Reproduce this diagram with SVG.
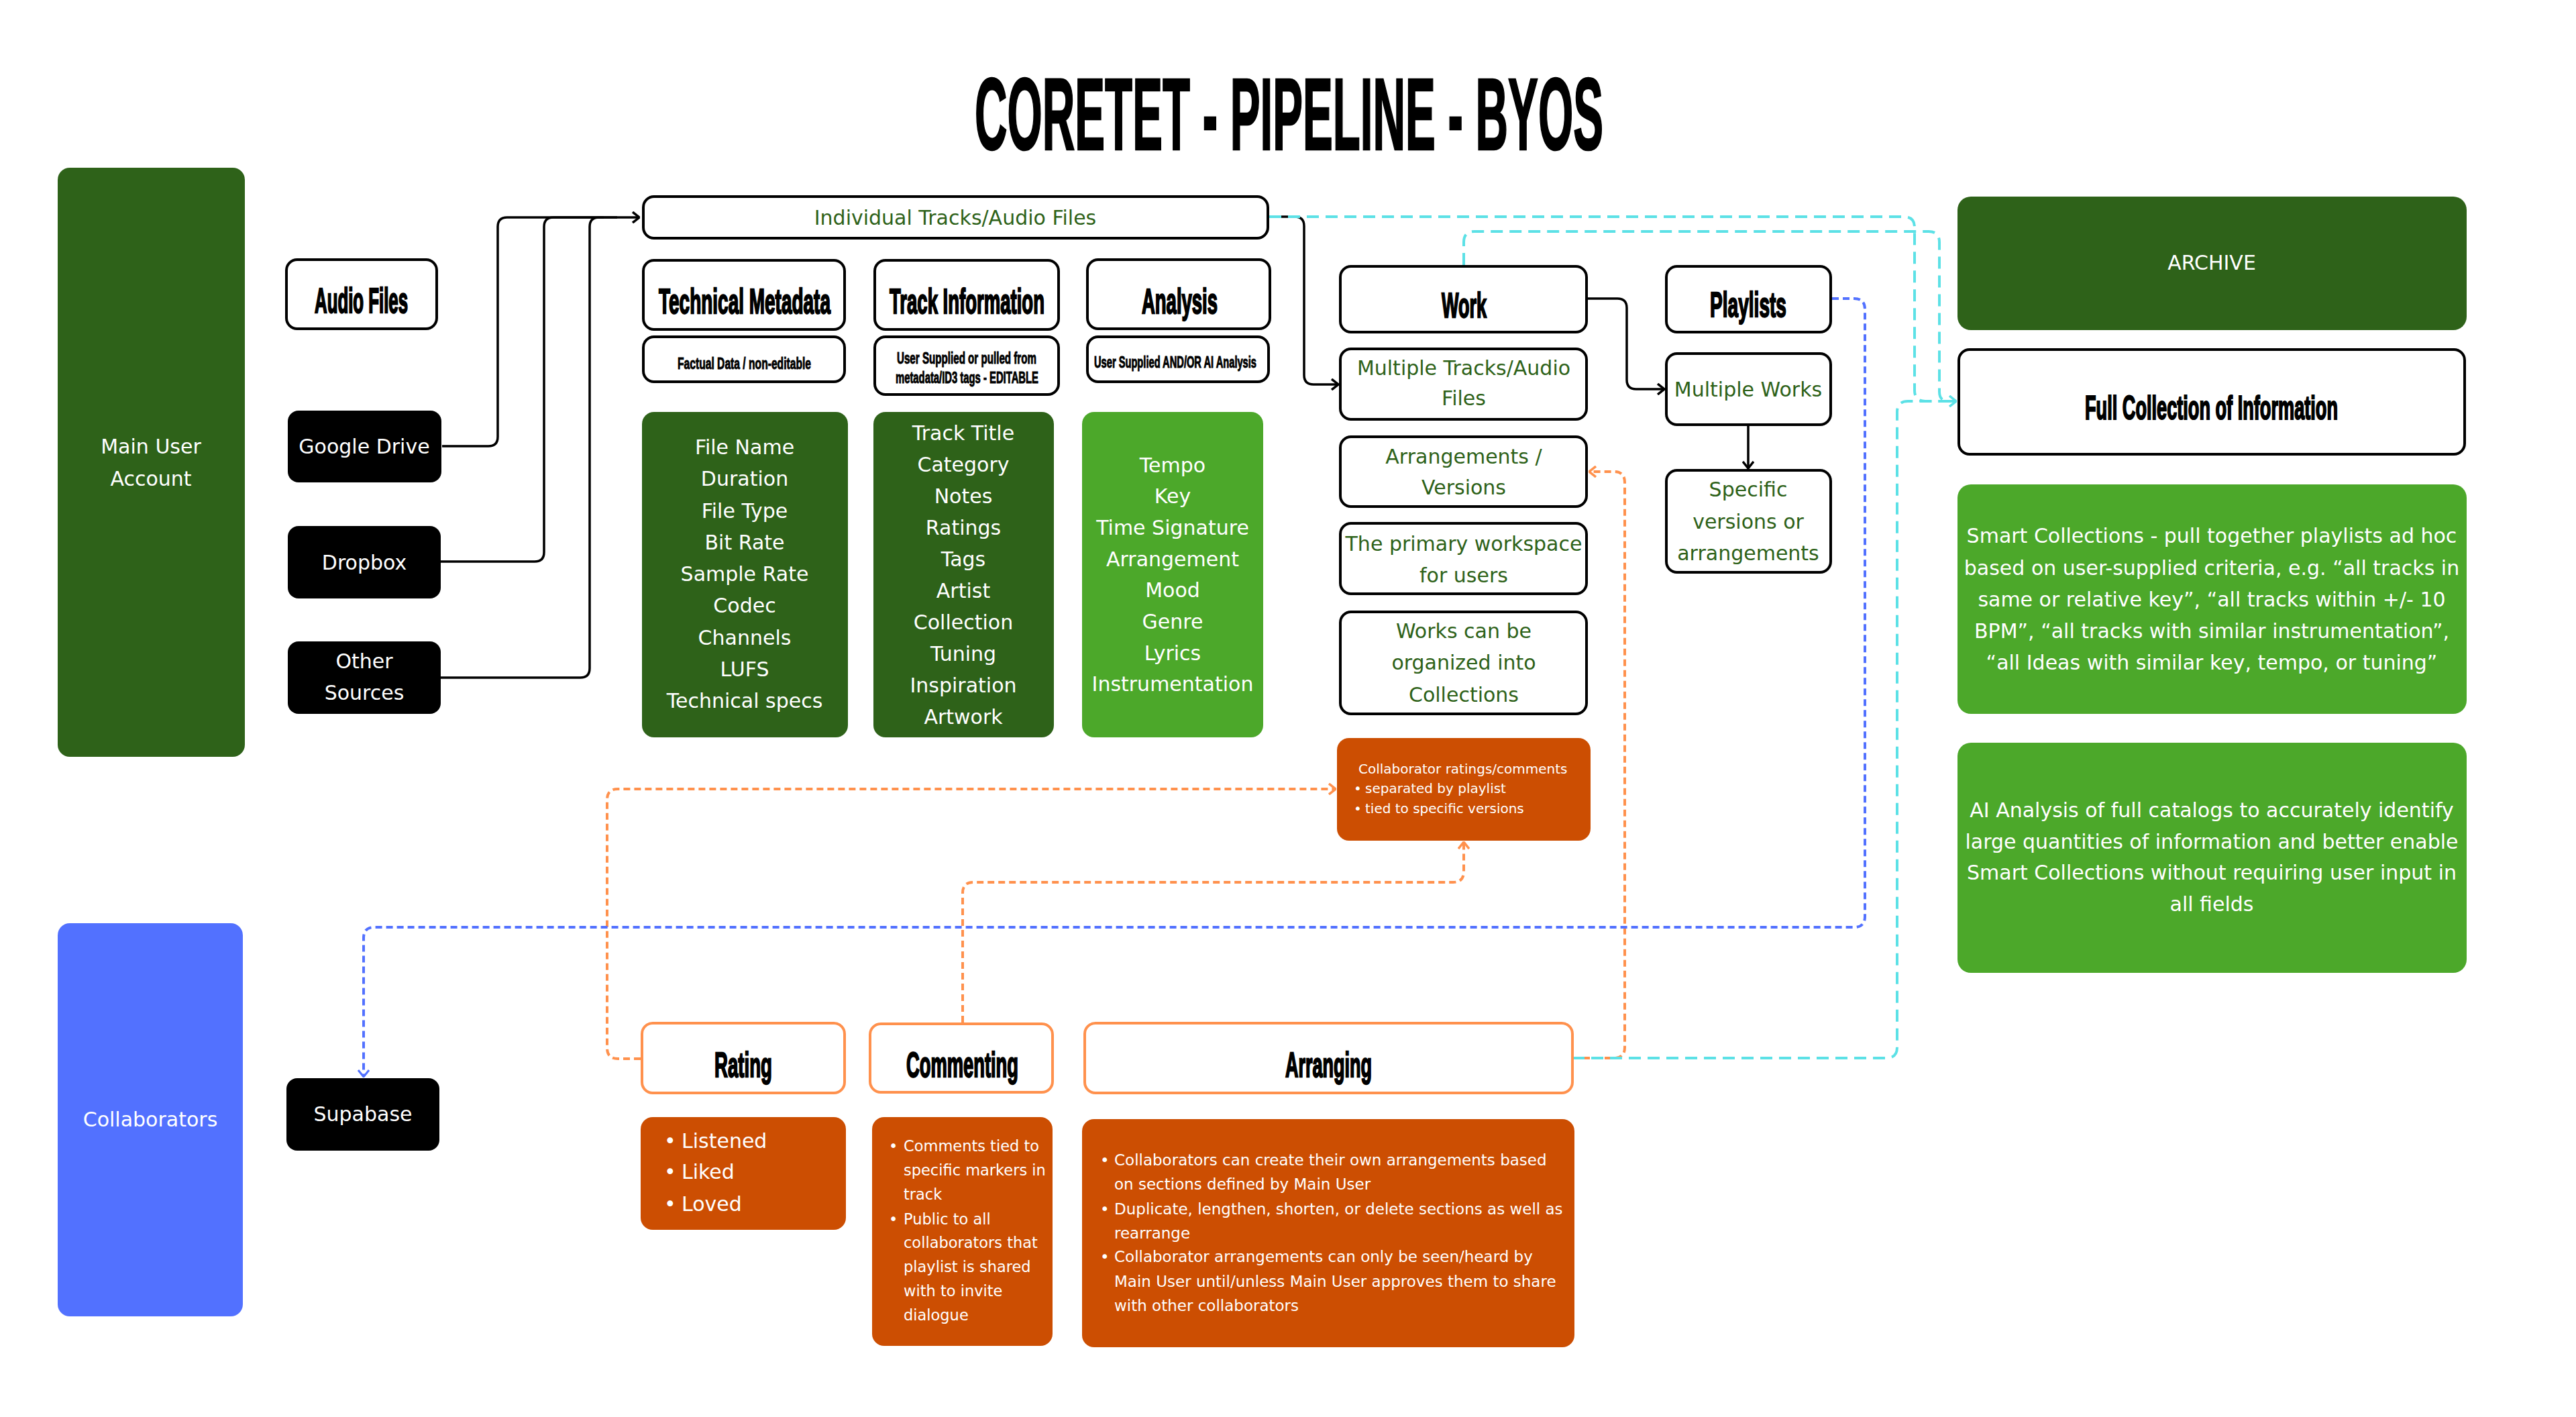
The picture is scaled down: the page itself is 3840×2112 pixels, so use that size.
<svg xmlns="http://www.w3.org/2000/svg" width="3840" height="2112" viewBox="0 0 3840 2112">
<defs>
<style>
.bx{fill:#fff;stroke:#000;stroke-width:4}
.ob{fill:#fff;stroke:#FF914D;stroke-width:4}
.dg{fill:#2E6219}
.lg{fill:#4CA82A}
.bk{fill:#000}
.or{fill:#CC4E02}
.bu{fill:#5271FF}
.h{font-family:"Liberation Sans",Arial,sans-serif;font-weight:700;fill:#000;stroke:#000;stroke-width:1.2}
.s{stroke-width:0.6}
.t{font-family:"DejaVu Sans","Liberation Sans",sans-serif;font-size:30px;text-anchor:middle}
.w{fill:#fff}
.g{fill:#2E6219}
.l{font-family:"DejaVu Sans","Liberation Sans",sans-serif;fill:#fff}
.k{fill:none;stroke:#000;stroke-width:3.5}
.cy{fill:none;stroke:#5CE1E6;stroke-width:4;stroke-dasharray:18 10}
.bd{fill:none;stroke:#5271FF;stroke-width:4;stroke-dasharray:10 6}
.od{fill:none;stroke:#FF914D;stroke-width:4;stroke-dasharray:10 6}
</style>
<marker id="ak" viewBox="0 0 12 18" refX="11" refY="9" markerWidth="12" markerHeight="18" orient="auto" markerUnits="userSpaceOnUse"><path d="M1,1 L11,9 L1,17" fill="none" stroke="#000" stroke-width="3.5"/></marker>
<marker id="ac" viewBox="0 0 12 18" refX="11" refY="9" markerWidth="12" markerHeight="18" orient="auto" markerUnits="userSpaceOnUse"><path d="M1,1 L11,9 L1,17" fill="none" stroke="#5CE1E6" stroke-width="3.5"/></marker>
<marker id="ab" viewBox="0 0 12 18" refX="11" refY="9" markerWidth="12" markerHeight="18" orient="auto" markerUnits="userSpaceOnUse"><path d="M1,1 L11,9 L1,17" fill="none" stroke="#5271FF" stroke-width="3"/></marker>
<marker id="ao" viewBox="0 0 12 18" refX="11" refY="9" markerWidth="12" markerHeight="18" orient="auto" markerUnits="userSpaceOnUse"><path d="M1,1 L11,9 L1,17" fill="none" stroke="#FF914D" stroke-width="3.5"/></marker>
</defs>
<rect width="3840" height="2112" fill="#fff"/>

<text id="title" class="h" transform="translate(1453,223) scale(1,2.26)" font-size="67.6" stroke-width="6" textLength="937" lengthAdjust="spacingAndGlyphs">CORETET - PIPELINE - BYOS</text>

<g id="connectors">
<path class="k" d="M657,837 H797 Q811,837 811,823 V338 Q811,324 825,324 H900"/>
<path class="k" d="M657,1010 H865 Q879,1010 879,996 V338 Q879,324 893,324 H920"/>
<path class="k" d="M659,665 H728 Q742,665 742,651 V338 Q742,324 756,324 H953" marker-end="url(#ak)"/>
<path class="k" d="M1892,323 H1930 Q1944,323 1944,337 V559 Q1944,573 1958,573 H1995" marker-end="url(#ak)"/>
<path class="k" d="M2367,445 H2411 Q2425,445 2425,459 V566 Q2425,580 2439,580 H2481" marker-end="url(#ak)"/>
<path class="k" d="M2606,635 V698" marker-end="url(#ak)"/>
<path class="od" d="M955,1578 H921 Q905,1578 905,1562 V1192 Q905,1176 921,1176 H1991" marker-end="url(#ao)"/>
<path class="od" d="M1435,1524 V1331 Q1435,1315 1451,1315 H2166 Q2182,1315 2182,1299 V1255" marker-end="url(#ao)"/>
<path class="od" d="M2344,1577 H2406 Q2422,1577 2422,1561 V719 Q2422,703 2406,703 H2369" marker-end="url(#ao)"/>
<path class="bd" d="M2731,445 H2764 Q2780,445 2780,461 V1366 Q2780,1382 2764,1382 H558 Q542,1382 542,1398 V1605" marker-end="url(#ab)"/>
<path class="cy" d="M2182,395 V361 Q2182,345 2198,345 H2875 Q2891,345 2891,361 V584 Q2891,598 2905,598 H2916"/>
<path class="cy" d="M2344,1577 H2812 Q2828,1577 2828,1561 V614 Q2828,598 2844,598 H2916"/>
<path class="cy" d="M1892,323 H2838 Q2854,323 2854,339 V582 Q2854,598 2870,598 H2916" marker-end="url(#ac)"/>
</g>

<g id="main-user"><rect class="dg" x="86" y="250" width="279" height="878" rx="18"/>
<text class="t w" x="225" y="676">Main User</text><text class="t w" x="225" y="724">Account</text></g>

<g id="audio-files"><rect class="bx" x="427" y="387" width="224" height="103" rx="16"/>
<text class="h" transform="translate(469,466) scale(1,2.03)" font-size="25.8" textLength="139" lengthAdjust="spacingAndGlyphs">Audio Files</text></g>

<g id="google-drive"><rect class="bk" x="429" y="612" width="229" height="107" rx="16"/>
<text class="t w" x="543" y="676">Google Drive</text></g>
<g id="dropbox"><rect class="bk" x="429" y="784" width="228" height="108" rx="16"/>
<text class="t w" x="543" y="849">Dropbox</text></g>
<g id="other-sources"><rect class="bk" x="429" y="956" width="228" height="108" rx="16"/>
<text class="t w" x="543" y="996">Other</text><text class="t w" x="543" y="1043">Sources</text></g>

<g id="individual-tracks"><rect class="bx" x="959" y="293" width="931" height="62" rx="16"/>
<text class="t g" x="1424" y="335">Individual Tracks/Audio Files</text></g>

<g id="technical-metadata"><rect class="bx" x="959" y="388" width="300" height="103" rx="16"/>
<text class="h" transform="translate(982,467) scale(1,1.9)" font-size="27.75" textLength="256" lengthAdjust="spacingAndGlyphs">Technical Metadata</text></g>
<g id="factual-data"><rect class="bx" x="959" y="502" width="300" height="67" rx="16"/>
<text class="h s" transform="translate(1010,550) scale(1,1.53)" font-size="15.6" textLength="199" lengthAdjust="spacingAndGlyphs">Factual Data / non-editable</text></g>
<g id="track-information"><rect class="bx" x="1304" y="388" width="274" height="103" rx="16"/>
<text class="h" transform="translate(1326,467) scale(1,1.925)" font-size="27.35" textLength="231" lengthAdjust="spacingAndGlyphs">Track Information</text></g>
<g id="user-supplied"><rect class="bx" x="1304" y="502" width="274" height="86" rx="16"/>
<text class="h s" transform="translate(1337,542) scale(1,1.57)" font-size="15.15" textLength="208" lengthAdjust="spacingAndGlyphs">User Supplied or pulled from</text>
<text class="h s" transform="translate(1335,571) scale(1,1.61)" font-size="14.74" textLength="213" lengthAdjust="spacingAndGlyphs">metadata/ID3 tags - EDITABLE</text></g>
<g id="analysis"><rect class="bx" x="1621" y="387" width="272" height="103" rx="16"/>
<text class="h" transform="translate(1702,467) scale(1,1.915)" font-size="27.5" textLength="113" lengthAdjust="spacingAndGlyphs">Analysis</text></g>
<g id="analysis-sub"><rect class="bx" x="1621" y="502" width="270" height="67" rx="16"/>
<text class="h s" transform="translate(1631,548) scale(1,1.63)" font-size="14.57" textLength="242" lengthAdjust="spacingAndGlyphs">User Supplied AND/OR AI Analysis</text></g>

<g id="tech-list"><rect class="dg" x="957" y="614" width="307" height="485" rx="18"/>
<text class="t w" x="1110" y="677">File Name</text><text class="t w" x="1110" y="724">Duration</text><text class="t w" x="1110" y="772">File Type</text><text class="t w" x="1110" y="819">Bit Rate</text><text class="t w" x="1110" y="866">Sample Rate</text><text class="t w" x="1110" y="913">Codec</text><text class="t w" x="1110" y="961">Channels</text><text class="t w" x="1110" y="1008">LUFS</text><text class="t w" x="1110" y="1055">Technical specs</text></g>

<g id="track-list"><rect class="dg" x="1302" y="614" width="269" height="485" rx="18"/>
<text class="t w" x="1436" y="656">Track Title</text><text class="t w" x="1436" y="703">Category</text><text class="t w" x="1436" y="750">Notes</text><text class="t w" x="1436" y="797">Ratings</text><text class="t w" x="1436" y="844">Tags</text><text class="t w" x="1436" y="891">Artist</text><text class="t w" x="1436" y="938">Collection</text><text class="t w" x="1436" y="985">Tuning</text><text class="t w" x="1436" y="1032">Inspiration</text><text class="t w" x="1436" y="1079">Artwork</text></g>

<g id="analysis-list"><rect class="lg" x="1613" y="614" width="270" height="485" rx="18"/>
<text class="t w" x="1748" y="704">Tempo</text><text class="t w" x="1748" y="750">Key</text><text class="t w" x="1748" y="797">Time Signature</text><text class="t w" x="1748" y="844">Arrangement</text><text class="t w" x="1748" y="890">Mood</text><text class="t w" x="1748" y="937">Genre</text><text class="t w" x="1748" y="984">Lyrics</text><text class="t w" x="1748" y="1030">Instrumentation</text></g>

<g id="work"><rect class="bx" x="1998" y="397" width="367" height="98" rx="16"/>
<text class="h" transform="translate(2149,473) scale(1,1.96)" font-size="26.8" textLength="67" lengthAdjust="spacingAndGlyphs">Work</text></g>
<g id="multiple-tracks"><rect class="bx" x="1998" y="520" width="367" height="105" rx="16"/>
<text class="t g" x="2182" y="559">Multiple Tracks/Audio</text><text class="t g" x="2182" y="604">Files</text></g>
<g id="arrangements"><rect class="bx" x="1998" y="651" width="367" height="104" rx="16"/>
<text class="t g" x="2182" y="691">Arrangements /</text><text class="t g" x="2182" y="737">Versions</text></g>
<g id="primary-workspace"><rect class="bx" x="1998" y="780" width="367" height="105" rx="16"/>
<text class="t g" x="2182" y="821">The primary workspace</text><text class="t g" x="2182" y="868">for users</text></g>
<g id="works-collections"><rect class="bx" x="1998" y="912" width="367" height="152" rx="16"/>
<text class="t g" x="2182" y="951">Works can be</text><text class="t g" x="2182" y="998">organized into</text><text class="t g" x="2182" y="1046">Collections</text></g>

<g id="collab-ratings"><rect class="or" x="1993" y="1100" width="378" height="153" rx="18"/>
<text class="l" x="2025" y="1153" font-size="20">Collaborator ratings/comments</text>
<text class="l" x="2018" y="1182" font-size="20">•</text><text class="l" x="2035" y="1182" font-size="20">separated by playlist</text>
<text class="l" x="2018" y="1212" font-size="20">•</text><text class="l" x="2035" y="1212" font-size="20">tied to specific versions</text></g>

<g id="playlists"><rect class="bx" x="2484" y="397" width="245" height="98" rx="16"/>
<text class="h" transform="translate(2549,472) scale(1,1.876)" font-size="28.1" textLength="114" lengthAdjust="spacingAndGlyphs">Playlists</text></g>
<g id="multiple-works"><rect class="bx" x="2484" y="527" width="245" height="106" rx="16"/>
<text class="t g" x="2606" y="591">Multiple Works</text></g>
<g id="specific-versions"><rect class="bx" x="2484" y="701" width="245" height="152" rx="16"/>
<text class="t g" x="2606" y="740">Specific</text><text class="t g" x="2606" y="788">versions or</text><text class="t g" x="2606" y="835">arrangements</text></g>

<g id="archive"><rect class="dg" x="2918" y="293" width="759" height="199" rx="20"/>
<text class="t w" x="3297" y="402">ARCHIVE</text></g>
<g id="full-collection"><rect class="bx" x="2920" y="521" width="754" height="156" rx="16"/>
<text class="h" transform="translate(3108,625) scale(1,1.845)" font-size="27.1" textLength="377" lengthAdjust="spacingAndGlyphs">Full Collection of Information</text></g>
<g id="smart-collections"><rect class="lg" x="2918" y="722" width="759" height="342" rx="20"/>
<text class="t w" x="3297" y="809">Smart Collections - pull together playlists ad hoc</text>
<text class="t w" x="3297" y="857">based on user-supplied criteria, e.g. “all tracks in</text>
<text class="t w" x="3297" y="904">same or relative key”, “all tracks within +/- 10</text>
<text class="t w" x="3297" y="951">BPM”, “all tracks with similar instrumentation”,</text>
<text class="t w" x="3297" y="998">“all Ideas with similar key, tempo, or tuning”</text></g>
<g id="ai-analysis"><rect class="lg" x="2918" y="1107" width="759" height="343" rx="20"/>
<text class="t w" x="3297" y="1218">AI Analysis of full catalogs to accurately identify</text>
<text class="t w" x="3297" y="1265">large quantities of information and better enable</text>
<text class="t w" x="3297" y="1311">Smart Collections without requiring user input in</text>
<text class="t w" x="3297" y="1358">all fields</text></g>

<g id="collaborators"><rect class="bu" x="86" y="1376" width="276" height="586" rx="18"/>
<text class="t w" x="224" y="1679">Collaborators</text></g>
<g id="supabase"><rect class="bk" x="427" y="1607" width="228" height="108" rx="16"/>
<text class="t w" x="541" y="1671">Supabase</text></g>

<g id="rating"><rect class="ob" x="957" y="1525" width="302" height="104" rx="16"/>
<text class="h" transform="translate(1065,1605) scale(1,1.91)" font-size="27.6" textLength="86" lengthAdjust="spacingAndGlyphs">Rating</text></g>
<g id="rating-list"><rect class="or" x="955" y="1665" width="306" height="168" rx="18"/>
<text class="l" x="990" y="1711" font-size="30">•</text><text class="l" x="1016" y="1711" font-size="30">Listened</text>
<text class="l" x="990" y="1757" font-size="30">•</text><text class="l" x="1016" y="1757" font-size="30">Liked</text>
<text class="l" x="990" y="1805" font-size="30">•</text><text class="l" x="1016" y="1805" font-size="30">Loved</text></g>

<g id="commenting"><rect class="ob" x="1297" y="1526" width="272" height="102" rx="16"/>
<text class="h" transform="translate(1351,1605) scale(1,1.93)" font-size="27.3" textLength="167" lengthAdjust="spacingAndGlyphs">Commenting</text></g>
<g id="commenting-list"><rect class="or" x="1300" y="1665" width="269" height="341" rx="18"/>
<text class="l" x="1325" y="1716" font-size="22.5">•</text><text class="l" x="1347" y="1716" font-size="22.5">Comments tied to</text>
<text class="l" x="1347" y="1752" font-size="22.5">specific markers in</text>
<text class="l" x="1347" y="1788" font-size="22.5">track</text>
<text class="l" x="1325" y="1825" font-size="22.5">•</text><text class="l" x="1347" y="1825" font-size="22.5">Public to all</text>
<text class="l" x="1347" y="1860" font-size="22.5">collaborators that</text>
<text class="l" x="1347" y="1896" font-size="22.5">playlist is shared</text>
<text class="l" x="1347" y="1932" font-size="22.5">with to invite</text>
<text class="l" x="1347" y="1968" font-size="22.5">dialogue</text></g>

<g id="arranging"><rect class="ob" x="1617" y="1525" width="727" height="104" rx="16"/>
<text class="h" transform="translate(1916,1605) scale(1,1.95)" font-size="27" textLength="129" lengthAdjust="spacingAndGlyphs">Arranging</text></g>
<g id="arranging-list"><rect class="or" x="1613" y="1668" width="734" height="340" rx="18"/>
<text class="l" x="1640" y="1737" font-size="23">•</text><text class="l" x="1661" y="1737" font-size="23">Collaborators can create their own arrangements based</text>
<text class="l" x="1661" y="1773" font-size="23">on sections defined by Main User</text>
<text class="l" x="1640" y="1810" font-size="23">•</text><text class="l" x="1661" y="1810" font-size="23">Duplicate, lengthen, shorten, or delete sections as well as</text>
<text class="l" x="1661" y="1846" font-size="23">rearrange</text>
<text class="l" x="1640" y="1881" font-size="23">•</text><text class="l" x="1661" y="1881" font-size="23">Collaborator arrangements can only be seen/heard by</text>
<text class="l" x="1661" y="1918" font-size="23">Main User until/unless Main User approves them to share</text>
<text class="l" x="1661" y="1954" font-size="23">with other collaborators</text></g>
</svg>
